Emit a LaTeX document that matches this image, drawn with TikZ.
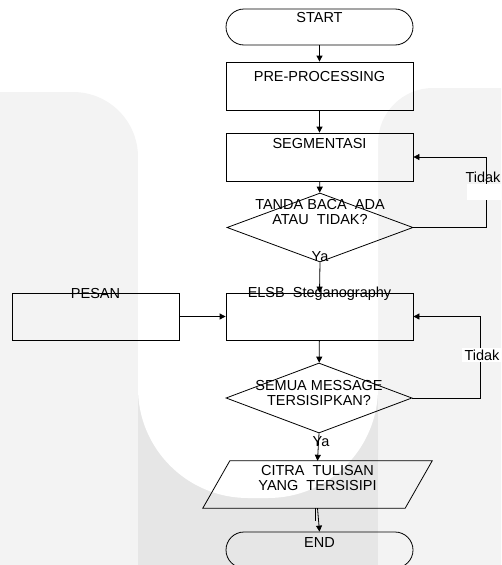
\documentclass[tikz,border=0pt]{standalone}
\usepackage{fontspec}
\setmainfont{Liberation Sans}
\usetikzlibrary{shapes.geometric,shapes.misc,arrows.meta,calc}
\definecolor{wmlight}{HTML}{F3F3F3}
\definecolor{wmdark}{HTML}{E6E6E6}
\begin{document}
\begin{tikzpicture}[x=1pt,y=-1pt,
  every node/.style={font=\fontsize{14.5}{15}\selectfont},
  box/.style={draw, line width=0.8pt, minimum width=187pt, minimum height=48pt, inner sep=0pt},
  term/.style={draw, rounded rectangle, line width=0.8pt, minimum width=187pt, minimum height=36pt, inner sep=0pt},
  dec/.style={draw, diamond, line width=0.8pt, minimum width=186pt, minimum height=70pt, inner sep=0pt},
  iobody/.style={minimum width=202pt, minimum height=47pt, inner sep=0pt},
  arr/.style={line width=0.8pt, -{Triangle[length=6pt,width=6pt]}},
  ln/.style={line width=0.8pt},
  txt/.style={anchor=center, align=center}
]
\useasboundingbox (0,0) rectangle (501,565);
\clip (0,0) rectangle (501,565);
% watermark background
\fill[wmlight, rounded corners=65pt] (-80,92) rectangle (138,700);
\fill[wmlight, rounded corners=55pt] (378,88) rectangle (620,700);
\fill[wmdark] (138,300) rectangle (378,565);
\fill[white, rounded corners=110pt] (138,-300) rectangle (378,498);

% nodes
\node[term, label={[txt,yshift=-9pt]north:START}] (start) at (319.5,27) {};
\node[box, label={[txt,yshift=-15pt]north:PRE-PROCESSING}] (pre) at (319.5,86) {};
\node[box, label={[txt,yshift=-11pt]north:SEGMENTASI}] (seg) at (319.5,157) {};
\node[dec, minimum height=69pt, label={[txt,yshift=-19pt]north:{TANDA BACA\ \ ADA\\ATAU\ \ TIDAK?}}] (d1) at (320,227.5) {};
\node[box, minimum height=47pt, label={[txt,yshift=-1pt]north:ELSB\ \ Steganography}] (elsb) at (319.5,316.5) {};
\node[box, minimum width=167pt, minimum height=47pt, label={[txt,yshift=-1pt]north:PESAN}] (pesan) at (95.5,316.5) {};
\node[dec, label={[txt,yshift=-30pt]north:{SEMUA MESSAGE\\TERSISIPKAN?}}] (d2) at (319,398) {};
\node[iobody, label={[txt,yshift=-17.5pt]north:{CITRA\ \ TULISAN\\YANG\ \ TERSISIPI}}] (out) at (317.5,484.5) {};
\draw[ln] ([xshift=13.5pt]out.north west) -- ([xshift=13.5pt]out.north east)
  -- ([xshift=-13.5pt]out.south east) -- ([xshift=-13.5pt]out.south west) -- cycle;
\node[term, label={[txt,yshift=-11pt]north:END}] (end) at (319.5,550) {};

% connectors
\draw[arr] (start) -- (pre);
\draw[arr] (pre) -- (seg);
\draw[arr] (seg) -- (d1);
\draw[arr] (d1.south) -- (elsb.north);
\draw[arr] (pesan) -- (elsb);
\draw[arr] (elsb) -- (d2);
\draw[arr] (d2.south) -- (out.north);
\draw[ln] ([xshift=-2pt]out.south) -- ++(0,13);
\draw[arr] (out.south) -- (end.north);

\coordinate (c1) at (486,157);
\draw[arr] (d1.east) -| (c1) -- (seg.east);
\coordinate (c2) at (480,316.5);
\draw[arr] (d2.east) -| (c2) -- (elsb.east);

% labels
\node (ya1) at (320,257) {Ya};
\node (ya2) at (321,442) {Ya};
\fill[white] (467,184) rectangle (501,200);
\node (t1) at (483,177) {Tidak};
\node[fill=white, inner xsep=3pt, inner ysep=2pt] (t2) at (482,355) {Tidak};
\end{tikzpicture}
\end{document}
